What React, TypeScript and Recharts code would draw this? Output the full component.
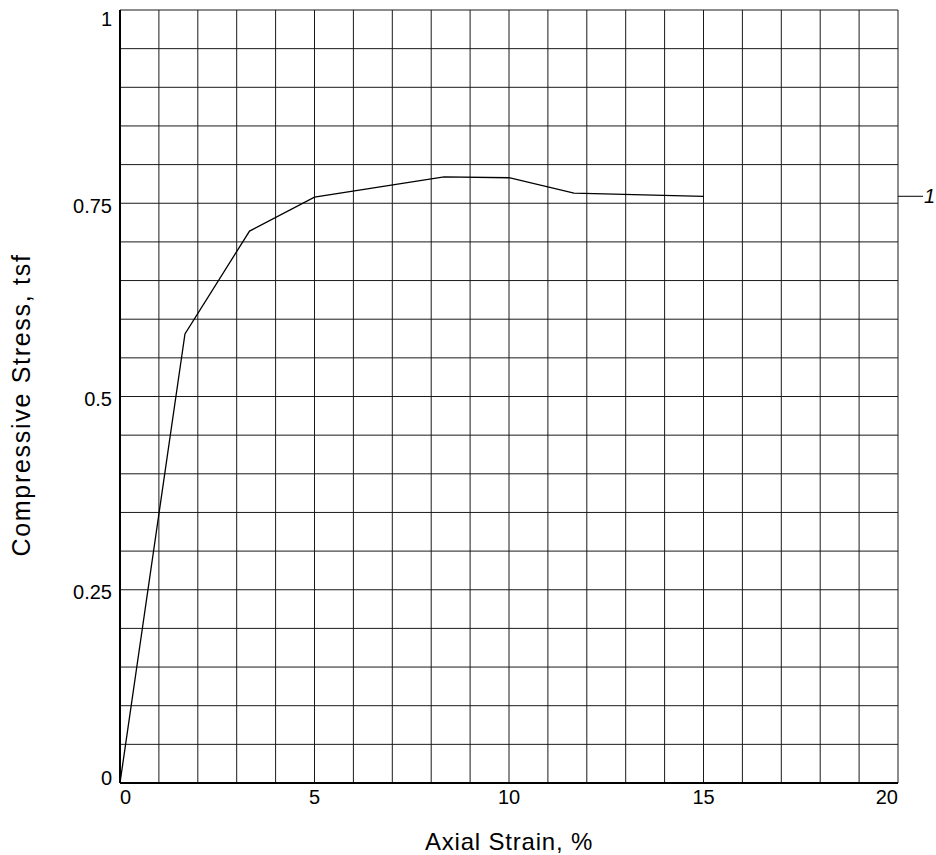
import { LineChart, Line, XAxis, YAxis, CartesianGrid, ReferenceDot, Label } from "recharts";

const strain = [0, 1.67, 3.33, 5, 8.33, 10, 11.67, 15];
const stress = [0, 0.581, 0.714, 0.758, 0.784, 0.783, 0.763, 0.759];

const xTicks = [0, 1, 2, 3, 4, 5, 6, 7, 8, 9, 10, 11, 12, 13, 14, 15, 16, 17, 18, 19, 20];
const yTicks = [
  0, 0.05, 0.1, 0.15, 0.2, 0.25, 0.3, 0.35, 0.4, 0.45, 0.5,
  0.55, 0.6, 0.65, 0.7, 0.75, 0.8, 0.85, 0.9, 0.95, 1,
];
const xLabelTicks = [0, 5, 10, 15, 20];
const yLabelTicks = [0, 0.25, 0.5, 0.75, 1];

const curveName = "1";
const FONT = "'Liberation Sans', Arial, sans-serif";

const data = strain.map((s, i) => ({ strain: s, stress: stress[i] }));

const XTick = ({ x, y, payload }: any) => {
  const v = payload.value;
  if (!xLabelTicks.includes(v)) return null;
  const anchor = v === 0 ? "start" : v === 20 ? "end" : "middle";
  return (
    <text x={x} y={y + 21} textAnchor={anchor} fill="#000" fontSize={20} fontFamily={FONT}>
      {v}
    </text>
  );
};

const YTick = ({ x, y, payload }: any) => {
  const v = payload.value;
  if (!yLabelTicks.some((t) => Math.abs(t - v) < 1e-6)) return null;
  const shift = v === 1 ? 16 : v === 0 ? 2 : 9.5;
  return (
    <text x={x - 8} y={y + shift} textAnchor="end" fill="#000" fontSize={20} fontFamily={FONT}>
      {v}
    </text>
  );
};

const CurveTag = ({ cx, cy }: any) => (
  <g>
    <line x1={cx} y1={cy} x2={cx + 25} y2={cy} stroke="#000" strokeWidth={1} />
    <text x={cx + 26} y={cy + 7} fontSize={20} fontStyle="italic" fill="#000" fontFamily={FONT}>
      {curveName}
    </text>
  </g>
);

export default function App() {
  return (
    <div style={{ position: "absolute", left: 0, top: 0 }}>
      <LineChart
        width={936}
        height={855}
        data={data}
        margin={{ top: 10, right: 38, bottom: 0, left: 0 }}
        style={{ fontFamily: FONT }}
      >
        <CartesianGrid stroke="#1a1a1a" strokeWidth={1} fill="none" />
        <XAxis
          dataKey="strain"
          type="number"
          domain={[0, 20]}
          ticks={xTicks}
          interval={0}
          height={72}
          tickSize={0}
          tickMargin={0}
          tickLine={false}
          axisLine={{ stroke: "#000", strokeWidth: 2 }}
          tick={<XTick />}
        >
          <Label
            content={({ viewBox }: any) => (
              <text
                x={viewBox.x + viewBox.width / 2}
                y={850}
                textAnchor="middle"
                fontSize={24}
                letterSpacing={0.8}
                fill="#000"
                fontFamily={FONT}
              >
                Axial Strain, %
              </text>
            )}
          />
        </XAxis>
        <XAxis
          xAxisId="top"
          orientation="top"
          type="number"
          domain={[0, 20]}
          height={0}
          tick={false}
          tickLine={false}
          axisLine={{ stroke: "#000", strokeWidth: 2 }}
        />
        <YAxis
          type="number"
          domain={[0, 1]}
          ticks={yTicks}
          interval={0}
          width={120}
          tickSize={0}
          tickMargin={0}
          tickLine={false}
          axisLine={{ stroke: "#000", strokeWidth: 2 }}
          tick={<YTick />}
        >
          <Label
            content={() => (
              <text
                x={30}
                y={405}
                transform="rotate(-90 30 405)"
                textAnchor="middle"
                fontSize={25}
                letterSpacing={1.7}
                fill="#000"
                fontFamily={FONT}
              >
                Compressive Stress, tsf
              </text>
            )}
          />
        </YAxis>
        <YAxis
          yAxisId="right"
          orientation="right"
          type="number"
          domain={[0, 1]}
          width={0}
          tick={false}
          tickLine={false}
          axisLine={{ stroke: "#000", strokeWidth: 2 }}
        />
        <Line
          type="linear"
          dataKey="stress"
          stroke="#000"
          strokeWidth={1.3}
          dot={false}
          activeDot={false}
          isAnimationActive={false}
        />
        <ReferenceDot
          x={20}
          y={stress[stress.length - 1]}
          ifOverflow="visible"
          shape={<CurveTag />}
        />
      </LineChart>
    </div>
  );
}
